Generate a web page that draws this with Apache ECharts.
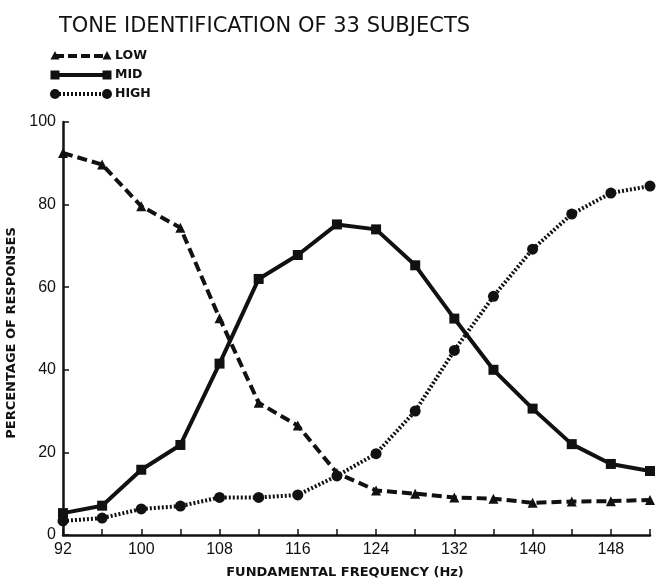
<!DOCTYPE html>
<html>
<head>
<meta charset="utf-8">
<script src="https://cdn.jsdelivr.net/npm/echarts@6/dist/echarts.min.js"></script>
<style>html,body{margin:0;padding:0;background:#fff;}#c{width:666px;height:581px;}</style>
</head>
<body>
<div id="c"></div>
<script>
const freqs = [92, 96, 100, 104, 108, 112, 116, 120, 124, 128, 132, 136, 140, 144, 148, 152];
const low  = [92.5, 89.7, 79.6, 74.4, 52.5, 32, 26.5, 15, 10.8, 10, 9.1, 8.8, 7.8, 8.1, 8.2, 8.5];
const mid  = [5.3, 7.1, 15.8, 21.8, 41.5, 62, 67.8, 75.2, 74, 65.3, 52.4, 40, 30.6, 22, 17.2, 15.5];
const high = [3.4, 4.1, 6.3, 7, 9.1, 9.1, 9.7, 14.3, 19.7, 30, 44.7, 57.8, 69.2, 77.7, 82.8, 84.5];
const yTicks = [0, 20, 40, 60, 80, 100];
const xLabelTicks = [92, 100, 108, 116, 124, 132, 140, 148];
const seriesNames = ['LOW', 'MID', 'HIGH'];

const ink = '#111';
const chart = echarts.init(document.getElementById('c'), null, {renderer: 'canvas'});
const pair = arr => freqs.map((f, i) => [f, arr[i]]);

const legendY = [56, 75, 94];
const legendGraphics = [];
const styles = [
  {dash: [9, 4], width: 4, symbol: 'triangle'},
  {dash: null, width: 4, symbol: 'rect'},
  {dash: [2, 2], width: 4, symbol: 'circle'}
];
seriesNames.forEach((n, i) => {
  const y = legendY[i];
  legendGraphics.push({type: 'line', shape: {x1: 55, y1: y, x2: 107, y2: y},
    style: {stroke: ink, lineWidth: styles[i].width, lineDash: styles[i].dash || null}});
  [55, 107].forEach(x => {
    if (styles[i].symbol === 'triangle') {
      legendGraphics.push({type: 'polygon', shape: {points: [[x, y - 5], [x - 4.5, y + 3.5], [x + 4.5, y + 3.5]]}, style: {fill: ink}});
    } else if (styles[i].symbol === 'rect') {
      legendGraphics.push({type: 'rect', shape: {x: x - 4.5, y: y - 4.5, width: 9, height: 9}, style: {fill: ink}});
    } else {
      legendGraphics.push({type: 'circle', shape: {cx: x, cy: y, r: 5}, style: {fill: ink}});
    }
  });
  legendGraphics.push({type: 'text', left: 115, top: y - 7,
    style: {text: n, fill: ink, font: 'bold 12.5px "DejaVu Sans", sans-serif'}});
});

chart.setOption({
  backgroundColor: '#fff',
  animation: false,
  title: {
    text: 'TONE IDENTIFICATION OF 33 SUBJECTS',
    left: 54, top: 11,
    textStyle: {fontFamily: '"DejaVu Sans", sans-serif', fontWeight: 'normal', fontSize: 21, color: ink}
  },
  graphic: legendGraphics,
  grid: {left: 63, right: 16, top: 122, bottom: 46, containLabel: false, outerBoundsMode: 'none'},
  xAxis: {
    type: 'value', min: 92, max: 152, interval: 4,
    name: 'FUNDAMENTAL FREQUENCY (Hz)', nameLocation: 'middle', nameGap: 31,
    nameTextStyle: {fontFamily: '"DejaVu Sans", sans-serif', fontWeight: 'bold', fontSize: 13, color: ink, padding: [0, 23, 0, 0]},
    axisLine: {show: true, lineStyle: {color: ink, width: 2.5}},
    axisTick: {show: true, inside: true, length: 6, lineStyle: {color: ink, width: 1.5}},
    splitLine: {show: false},
    axisLabel: {
      color: ink, fontSize: 16, margin: 7,
      fontFamily: '"Liberation Sans", Arial, sans-serif',
      formatter: v => xLabelTicks.indexOf(v) >= 0 ? String(v) : ''
    }
  },
  yAxis: {
    type: 'value', min: 0, max: 100, interval: 20,
    name: 'PERCENTAGE OF RESPONSES', nameLocation: 'middle', nameGap: 33, nameRotate: 90,
    nameTextStyle: {fontFamily: '"DejaVu Sans", sans-serif', fontWeight: 'bold', fontSize: 13, color: ink, padding: [0, 9, 0, 0]},
    axisLine: {show: true, lineStyle: {color: ink, width: 2.5}},
    axisTick: {show: true, inside: true, length: 6, lineStyle: {color: ink, width: 1.5}},
    splitLine: {show: false},
    axisLabel: {color: ink, fontSize: 16, margin: 7, fontFamily: '"Liberation Sans", Arial, sans-serif',
      formatter: v => yTicks.indexOf(v) >= 0 ? String(v) : ''}
  },
  series: [
    {name: 'LOW', type: 'line', data: pair(low), symbol: 'triangle', symbolSize: 10,
      itemStyle: {color: ink}, lineStyle: {color: ink, width: 4, type: [10, 5]}},
    {name: 'MID', type: 'line', data: pair(mid), symbol: 'rect', symbolSize: 10,
      itemStyle: {color: ink}, lineStyle: {color: ink, width: 4, type: 'solid'}},
    {name: 'HIGH', type: 'line', data: pair(high), symbol: 'circle', symbolSize: 11,
      itemStyle: {color: ink}, lineStyle: {color: ink, width: 4, type: [2, 2]}}
  ]
});
</script>
</body>
</html>
